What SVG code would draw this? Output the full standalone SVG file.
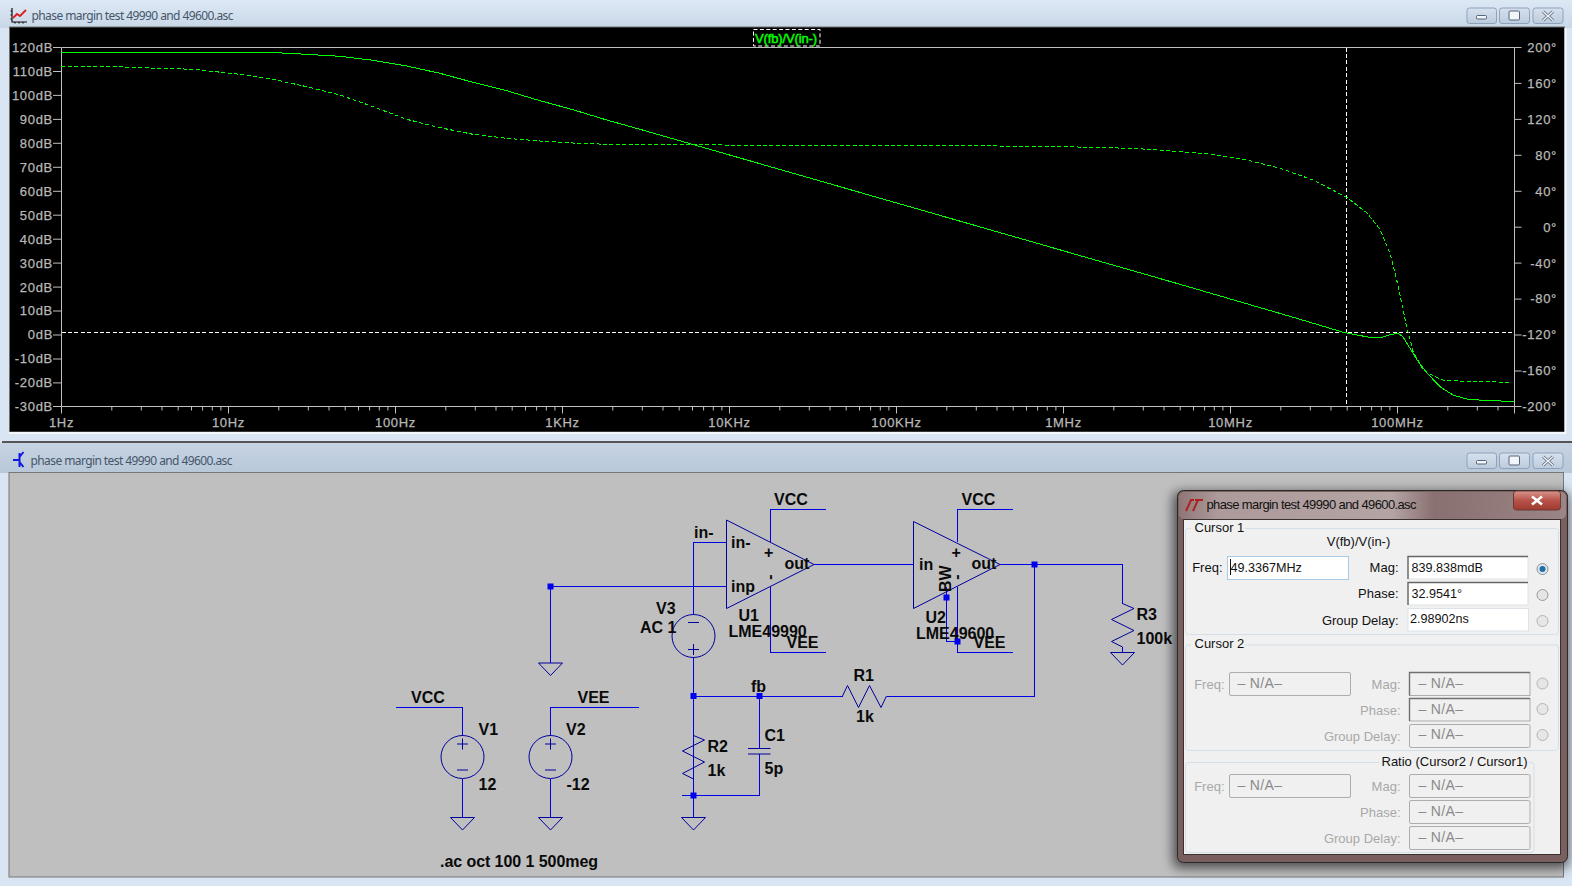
<svg xmlns="http://www.w3.org/2000/svg" xmlns:xlink="http://www.w3.org/1999/xlink" width="1572" height="886" viewBox="0 0 1572 886">
<style>
text{font-family:"Liberation Sans",Arial,sans-serif}
.title{font-family:"Noto Sans","Open Sans",sans-serif;font-size:12px;fill:#46566a}
.ax{font-size:13px;fill:#b8b8b8;stroke:#b8b8b8;stroke-width:.25;letter-spacing:.7px}
.axe{text-anchor:end}
.axm{text-anchor:middle}
.axis{fill:none;stroke:#c0c0c0;stroke-width:1}
.tr{fill:none;stroke:#00ff00;stroke-width:1;shape-rendering:crispEdges}
.dash{stroke-dasharray:4 2.4}
.cur{fill:none;stroke:#fff;stroke-width:1;stroke-dasharray:4 2.4;shape-rendering:crispEdges}
.w{fill:none;stroke:#0000e6;stroke-width:1;shape-rendering:crispEdges}
.s{fill:none;stroke:#00009c;stroke-width:1}
.j{fill:#0000f0}
.l{font-size:16px;font-weight:bold;fill:#0a0a0a}
.d{font-size:13px;fill:#111}
.r{text-anchor:end}
.g{font-size:13px;fill:#a8a8a8;text-anchor:end}
.na{font-size:14px;fill:#8a8a8a}
.v{font-size:12.6px;fill:#111}
.box{fill:none;stroke:#d3dee6;stroke-width:1}
.in{fill:#fff;stroke:#dde3e8;stroke-width:1}
.off{fill:#f0f0f0;stroke:#adadad;stroke-width:1}
.rad{fill:#e6e6e6;stroke:#b4b4b4;stroke-width:1}
.btn{fill:url(#btn);stroke:#8ea2bd;stroke-width:1}
.gl{fill:#f2f5f9;stroke:#55657a;stroke-width:1}
</style>
<defs>
<linearGradient id="t1" x1="0" y1="0" x2="0" y2="1"><stop offset="0" stop-color="#dde8f5"/><stop offset="1" stop-color="#c8d7e7"/></linearGradient>
<linearGradient id="t2" x1="0" y1="0" x2="0" y2="1"><stop offset="0" stop-color="#c6d3e2"/><stop offset="1" stop-color="#b8c8d9"/></linearGradient>
<linearGradient id="btn" x1="0" y1="0" x2="0" y2="1"><stop offset="0" stop-color="#d6e1ee"/><stop offset="1" stop-color="#bccbdc"/></linearGradient>
<linearGradient id="dt" x1="0" y1="0" x2="1" y2="0"><stop offset="0" stop-color="#8f7676"/><stop offset=".1" stop-color="#ad9a9a"/><stop offset=".55" stop-color="#b4a4a4"/><stop offset=".66" stop-color="#8a7070"/><stop offset="1" stop-color="#9b8585"/></linearGradient>
<linearGradient id="cl" x1="0" y1="0" x2="0" y2="1"><stop offset="0" stop-color="#d8958c"/><stop offset=".5" stop-color="#b8534a"/><stop offset="1" stop-color="#a03a30"/></linearGradient>
<filter id="blur" x="-10%" y="-10%" width="120%" height="120%"><feGaussianBlur stdDeviation="6"/></filter>
<g id="dec"><path class="axis" d="M50.3 0v4M79.8 0v4M100.5 0v4M116.7 0v4M130 0v4M141.1 0v4M150.8 0v4M159.4 0v4M0 0v7"/></g>
<g id="gnd"><path class="s" d="M-12 0H12L0 12.5Z"/></g>
<g id="btns"><rect class="btn" x="1467" y="8" width="29.5" height="15.5" rx="2.5"/><rect class="btn" x="1499.5" y="8" width="30" height="15.5" rx="2.5"/><rect class="btn" x="1533" y="8" width="30" height="15.5" rx="2.5"/><rect class="gl" x="1476.5" y="15.5" width="10" height="3.5" rx="1"/><rect class="gl" x="1509" y="11" width="10.5" height="9" rx="1"/><path d="M1543 11.5l10 9M1553 11.5l-10 9" fill="none" stroke="#55657a" stroke-width="3"/><path d="M1543 11.5l10 9M1553 11.5l-10 9" fill="none" stroke="#f2f5f9" stroke-width="1.5"/></g>
</defs>

<rect width="1572" height="886" fill="#d9e5f3"/>

<g id="plot-window">
<rect x="0" y="0" width="1572" height="28" fill="url(#t1)"/>
<rect x="9.5" y="27" width="1555" height="405" fill="#000" stroke="#6d6d6d" stroke-width="1"/>
<rect x="9" y="432" width="1557" height="2" fill="#f4f8fc"/>
<rect x="1564.500" y="28" width="2" height="405" fill="#f4f8fc"/>
<path d="M12 8v14h15M12 11h-1.500M12 15h-1.500M12 19h-1.500M15 22v1.500M19 22v1.500M23 22v1.500" fill="none" stroke="#111" stroke-width="1.200"/>
<path d="M13 18l4-4 3 2 6-6" fill="none" stroke="#e02020" stroke-width="1.800"/>
<text class="title" x="31.500" y="20" textLength="202">phase margin test 49990 and 49600.asc</text>
<use href="#btns" xlink:href="#btns"/>
<path class="axis" d="M61.500 47.500H1514.500V406.500H61.500Z"/>
<path class="axis" d="M53 47.500h8M53 71.500h8M53 95.400h8M53 119.400h8M53 143.300h8M53 167.300h8M53 191.300h8M53 215.200h8M53 239.200h8M53 263.100h8M53 287.100h8M53 311h8M53 335h8M53 359h8M53 382.900h8M53 406.500h8"/>
<path class="axis" d="M1514.500 47.500h7M1514.500 83.400h7M1514.500 119.400h7M1514.500 155.300h7M1514.500 191.300h7M1514.500 227.200h7M1514.500 263.100h7M1514.500 299.100h7M1514.500 335h7M1514.500 371h7M1514.500 406.500h7"/>
<use href="#dec" xlink:href="#dec" x="61.500" y="406.500"/><use href="#dec" xlink:href="#dec" x="228.500" y="406.500"/><use href="#dec" xlink:href="#dec" x="395.500" y="406.500"/><use href="#dec" xlink:href="#dec" x="562.500" y="406.500"/><use href="#dec" xlink:href="#dec" x="729.500" y="406.500"/><use href="#dec" xlink:href="#dec" x="896.500" y="406.500"/><use href="#dec" xlink:href="#dec" x="1063.500" y="406.500"/><use href="#dec" xlink:href="#dec" x="1230.500" y="406.500"/>
<path class="axis" d="M1397.500 406.500v7M1447.800 406.500v4M1477.300 406.500v4M1498 406.500v4M1514.500 406.500v7"/>
<g class="ax axe"><text x="53" y="52">120dB</text><text x="53" y="76">110dB</text><text x="53" y="100">100dB</text><text x="53" y="124">90dB</text><text x="53" y="148">80dB</text><text x="53" y="172">70dB</text><text x="53" y="196">60dB</text><text x="53" y="220">50dB</text><text x="53" y="244">40dB</text><text x="53" y="268">30dB</text><text x="53" y="292">20dB</text><text x="53" y="315">10dB</text><text x="53" y="339">0dB</text><text x="53" y="363">-10dB</text><text x="53" y="387">-20dB</text><text x="53" y="411">-30dB</text></g>
<g class="ax axe"><text x="1557" y="52">200°</text><text x="1557" y="88">160°</text><text x="1557" y="124">120°</text><text x="1557" y="160">80°</text><text x="1557" y="196">40°</text><text x="1557" y="232">0°</text><text x="1557" y="268">-40°</text><text x="1557" y="303">-80°</text><text x="1557" y="339">-120°</text><text x="1557" y="375">-160°</text><text x="1557" y="411">-200°</text></g>
<g class="ax axm"><text x="61.500" y="426.500">1Hz</text><text x="228.500" y="426.500">10Hz</text><text x="395.500" y="426.500">100Hz</text><text x="562.500" y="426.500">1KHz</text><text x="729.500" y="426.500">10KHz</text><text x="896.500" y="426.500">100KHz</text><text x="1063.500" y="426.500">1MHz</text><text x="1230.500" y="426.500">10MHz</text><text x="1397.500" y="426.500">100MHz</text></g>
<path class="cur" d="M61.500 332.500H1514M1346.500 47.500V406"/>
<polyline class="tr" points="61.500,52.300 272,52.500 306.700,54.300 340,56.300 373,60.300 406.700,66 440,73.300 473,82.300 506.700,90.700 540,100.700 573,109.700 606.700,120 640,129.300 1180,284.300 1300,319.300 1343.300,332.300 1356.700,335 1370,337.300 1381.700,337.300 1391.700,334.300 1398.300,333.300 1403.300,337.300 1410,348.300 1416.700,359.300 1426.700,372.700 1440,386.700 1453,395 1466.700,399 1486.700,400.700 1514,401.300"/>
<polyline class="tr dash" points="61.500,66.300 115,66.700 150,68 193,69.300 240,74.300 273,79.300 306.700,86.700 340,95 373,106.700 406.700,119.300 440,127.700 473,134.300 506.700,138.300 540,141 573,143 606.700,144.300 640,144.700 800,145.300 1000,146 1100,147.300 1150,149.300 1180,151.700 1213,154.300 1246.700,160 1280,168.300 1313,180 1346.700,197.300 1366.700,212.700 1380,229.300 1390,253.300 1396.700,280 1401.700,303.300 1406.700,327 1413.300,351.700 1423,370 1435,376.700 1443,380 1460,381 1510,382.300"/>
<rect x="753.500" y="29.500" width="66.500" height="16.500" fill="none" stroke="#fff" stroke-dasharray="4 2.400"/>
<text x="755" y="42.500" font-size="13" fill="#00ff00" stroke="#00ff00" stroke-width=".5" textLength="62">V(fb)/V(in-)</text>
</g>

<g id="schematic-window">
<rect x="2" y="441" width="1570" height="2" fill="#555"/>
<rect x="0" y="443" width="1572" height="30" fill="url(#t2)"/>
<rect x="9" y="472.500" width="1554.500" height="404.500" fill="#bfbfbf" stroke="#777" stroke-width="1"/>
<path d="M19.500 453v14M13 460l6.500 0M19.500 457l4-5M19.500 462l4 5" fill="none" stroke="#1018e0" stroke-width="2"/>
<text class="title" x="30.500" y="465" textLength="202">phase margin test 49990 and 49600.asc</text>
<use href="#btns" xlink:href="#btns" y="445"/>
</g>

<g id="connectors">
<path class="w" d="M550.500 586.500H726.500"/>
<path class="w" d="M550.500 586.500V663"/>
<path class="w" d="M726.500 542.500H693.500V615"/>
<path class="w" d="M693.500 657V817.500"/>
<path class="w" d="M682 795.500H759.500V754"/>
<path class="w" d="M759.500 748.500V696"/>
<path class="w" d="M693.500 696H842.500"/>
<path class="w" d="M886.500 696H1034.500V564.500"/>
<path class="w" d="M814 564.500H913.500"/>
<path class="w" d="M1000 564.500H1122.500V603.500"/>
<path class="w" d="M770.500 542V509.500H826"/>
<path class="w" d="M770.500 587V652.500H826"/>
<path class="w" d="M957.500 542V509.500H1013"/>
<path class="w" d="M957.500 587V652.500H1013"/>
<path class="w" d="M946.500 587V641.500H957.500"/>
<path class="w" d="M1122.500 647V652.500"/>
<path class="w" d="M396 707.500H462.500V735.500"/>
<path class="w" d="M462.500 778.500V817.500"/>
<path class="w" d="M639 707.500H550.500V735.500"/>
<path class="w" d="M550.500 778.500V817.500"/>
<path class="j" d="M547.500 583.500h6v6h-6ZM690.500 693h6v6h-6ZM756.500 693h6v6h-6ZM690.500 792.500h6v6h-6ZM1031.500 561.500h6v6h-6ZM943.500 594.500h6v6h-6ZM954.500 638.500h6v6h-6Z"/>
</g>

<g id="U1">
<path class="s" d="M726.500 520V608.500L814 564.500Z"/>
<text class="l" x="731" y="548">in-</text><text class="l" x="731" y="591.500">inp</text>
<text class="l" x="764" y="558">+</text><text class="l" transform="translate(767 574.500) rotate(90)">-</text>
<text class="l" x="784.500" y="569">out</text>
<text class="l" x="738.500" y="620.500">U1</text><text class="l" x="728.500" y="636.500">LME49990</text>
</g>
<g id="U2">
<path class="s" d="M913.500 521.500V608.500L1000 564.500Z"/>
<text class="l" x="919" y="570">in</text>
<text class="l" x="951.500" y="558">+</text><text class="l" transform="translate(954 574.500) rotate(90)">-</text>
<text class="l" x="971.500" y="569">out</text>
<text class="l" transform="translate(951 592) rotate(-90)">BW</text>
<text class="l" x="925.500" y="622.500">U2</text><text class="l" x="916" y="639">LME49600</text>
</g>
<g id="labels">
<text class="l" x="694" y="538">in-</text>
<text class="l" x="774" y="505">VCC</text><text class="l" x="786.500" y="648">VEE</text>
<text class="l" x="961.500" y="505">VCC</text><text class="l" x="973.500" y="648">VEE</text>
<text class="l" x="411" y="702.500">VCC</text><text class="l" x="577.500" y="702.500">VEE</text>
<text class="l" x="751" y="691.500">fb</text>
<text class="l" x="440" y="866.500" textLength="158">.ac oct 100 1 500meg</text>
</g>
<g id="V3">
<circle class="s" cx="693.500" cy="636" r="21.500"/>
<path class="s" d="M688 622.500h11M688 649.500h11M693.500 644v11"/>
<text class="l" x="656" y="613.500">V3</text><text class="l" x="640" y="632.500">AC 1</text>
</g>
<g id="V1">
<circle class="s" cx="462.500" cy="757" r="21.500"/>
<path class="s" d="M457 744h11M462.500 738.500v11M457 770h11"/>
<text class="l" x="478.500" y="735">V1</text><text class="l" x="478.500" y="790">12</text>
</g>
<g id="V2">
<circle class="s" cx="550.500" cy="757" r="21.500"/>
<path class="s" d="M545 744h11M550.500 738.500v11M545 770h11"/>
<text class="l" x="566" y="735">V2</text><text class="l" x="566.500" y="790">-12</text>
</g>
<g id="R1">
<path class="s" d="M842.500 696L847.500 685.500L858.500 707.500L869.500 685.500L881 707.500L886.500 696"/>
<text class="l" x="853.500" y="680.500">R1</text><text class="l" x="856" y="722">1k</text>
</g>
<g id="R2">
<path class="s" d="M693.500 735.500L704.500 740L682.500 751L704.500 762L682.500 773.500L693.500 779"/>
<text class="l" x="707.500" y="752">R2</text><text class="l" x="707.500" y="776">1k</text>
</g>
<g id="R3">
<path class="s" d="M1122.500 603.500L1134 608.500L1111.500 619.500L1134 630.500L1111.500 641.500L1122.500 647"/>
<text class="l" x="1136.500" y="619.500">R3</text><text class="l" x="1136.500" y="644">100k</text>
</g>
<g id="C1">
<path class="s" d="M748 748.500h22.500M748 754h22.500"/>
<text class="l" x="764.500" y="740.500">C1</text><text class="l" x="764.500" y="773.500">5p</text>
</g>
<g id="grounds">
<use href="#gnd" xlink:href="#gnd" x="462.500" y="817.500"/><use href="#gnd" xlink:href="#gnd" x="550.500" y="817.500"/><use href="#gnd" xlink:href="#gnd" x="693.500" y="817.500"/><use href="#gnd" xlink:href="#gnd" x="550.500" y="663"/><use href="#gnd" xlink:href="#gnd" x="1122.500" y="652.500"/>
</g>

<g id="cursor-dialog">
<rect x="1173" y="492" width="396" height="376" rx="6" fill="#000" opacity=".6" filter="url(#blur)"/>
<rect x="1177.500" y="490.500" width="390" height="372" rx="6" fill="#7a5f5f" stroke="#2a2a2a"/>
<rect x="1179" y="492" width="387" height="27" rx="5" fill="url(#dt)"/>
<rect x="1513.500" y="491" width="47" height="19" rx="3" fill="url(#cl)" stroke="#6a3a36"/>
<path d="M1532 496.500l10 8M1542 496.500l-10 8" stroke="#fff" stroke-width="2.600" fill="none"/>
<path d="M1186 511l5-11h3M1195 500h8M1198 500l-5 11" fill="none" stroke="#b02020" stroke-width="2"/>
<text x="1206.500" y="509" font-size="13" fill="#111" textLength="210">phase margin test 49990 and 49600.asc</text>
<rect x="1183.500" y="519.500" width="377" height="335" fill="#f0f0f0" stroke="#3a3030"/>

<rect class="box" x="1185.500" y="528.500" width="373" height="106" rx="3"/>
<rect x="1191" y="522" width="54" height="14" fill="#f0f0f0"/>
<text class="d" x="1194.500" y="532" font-size="12.500">Cursor 1</text>
<text class="d" x="1358.500" y="546" text-anchor="middle">V(fb)/V(in-)</text>
<text class="d r" x="1222.500" y="571.500">Freq:</text><text class="d r" x="1398.500" y="571.500">Mag:</text><text class="d r" x="1398.500" y="598">Phase:</text><text class="d r" x="1398.500" y="624.500">Group Delay:</text>
<rect x="1227.500" y="556.500" width="121" height="23" fill="#fff" stroke="#a9cbe4"/>
<path d="M1230.500 559v16" stroke="#111"/>
<text class="v" x="1230.500" y="571.500">49.3367MHz</text>
<rect class="in" x="1408" y="556.500" width="120" height="22.500"/><path d="M1408 579V556.500H1528" fill="none" stroke="#666" stroke-width="1.400"/>
<text class="v" x="1411.500" y="571.500">839.838mdB</text>
<rect class="in" x="1408" y="582.500" width="120" height="22.500"/><path d="M1408 605V582.500H1528" fill="none" stroke="#666" stroke-width="1.400"/>
<text class="v" x="1411.500" y="598">32.9541°</text>
<rect class="in" x="1408" y="608.500" width="120.500" height="22.500"/>
<text class="v" x="1410" y="623">2.98902ns</text>
<circle cx="1542.500" cy="569" r="5.500" fill="#dfe6ec" stroke="#8a949c"/><circle cx="1542.500" cy="569" r="3" fill="#1f6ea8"/>
<circle cx="1542.500" cy="595" r="5.500" fill="#e4e4e4" stroke="#9a9a9a"/>
<circle class="rad" cx="1542.500" cy="621" r="5.500"/>

<rect class="box" x="1185.500" y="645" width="373" height="105.500" rx="3"/>
<rect x="1191" y="638" width="54" height="14" fill="#f0f0f0"/>
<text class="d" x="1194.500" y="648" font-size="12.500">Cursor 2</text>
<text class="g" x="1224.500" y="688.500">Freq:</text><text class="g" x="1400.500" y="688.500">Mag:</text><text class="g" x="1400.500" y="714.500">Phase:</text><text class="g" x="1400.500" y="741">Group Delay:</text>
<rect class="off" x="1229.500" y="672.500" width="121" height="23" rx="1.500"/>
<rect class="off" x="1409.500" y="672.500" width="120.500" height="23"/><path d="M1409.500 695.500V672.500H1530" fill="none" stroke="#707070" stroke-width="1.400"/>
<rect class="off" x="1409.500" y="698.500" width="120.500" height="22.500"/><path d="M1409.500 721V698.500H1530" fill="none" stroke="#707070" stroke-width="1.400"/>
<rect class="off" x="1409.500" y="724.500" width="120.500" height="23" rx="1.500"/>
<text class="na" x="1237.500" y="688" textLength="44.500">– N/A–</text><text class="na" x="1418.500" y="688" textLength="44.500">– N/A–</text><text class="na" x="1418.500" y="713.500" textLength="44.500">– N/A–</text><text class="na" x="1418.500" y="739" textLength="44.500">– N/A–</text>
<circle class="rad" cx="1542.500" cy="683.500" r="5.500"/><circle class="rad" cx="1542.500" cy="709" r="5.500"/><circle class="rad" cx="1542.500" cy="735" r="5.500"/>

<rect class="box" x="1185.500" y="762.500" width="348.500" height="90" rx="3"/>
<rect x="1379" y="756" width="150" height="14" fill="#f0f0f0"/>
<text class="d" x="1381.500" y="766" textLength="146">Ratio (Cursor2 / Cursor1)</text>
<text class="g" x="1224.500" y="790.500">Freq:</text><text class="g" x="1400.500" y="790.500">Mag:</text><text class="g" x="1400.500" y="816.500">Phase:</text><text class="g" x="1400.500" y="843">Group Delay:</text>
<rect class="off" x="1229.500" y="774.500" width="121" height="23" rx="1.500"/>
<rect class="off" x="1409.500" y="774.500" width="120.500" height="23" rx="1.500"/>
<rect class="off" x="1409.500" y="800.500" width="120.500" height="23" rx="1.500"/>
<rect class="off" x="1409.500" y="826.500" width="120.500" height="23" rx="1.500"/>
<text class="na" x="1237.500" y="790" textLength="44.500">– N/A–</text><text class="na" x="1418.500" y="790" textLength="44.500">– N/A–</text><text class="na" x="1418.500" y="816" textLength="44.500">– N/A–</text><text class="na" x="1418.500" y="841.500" textLength="44.500">– N/A–</text>
</g>
</svg>
